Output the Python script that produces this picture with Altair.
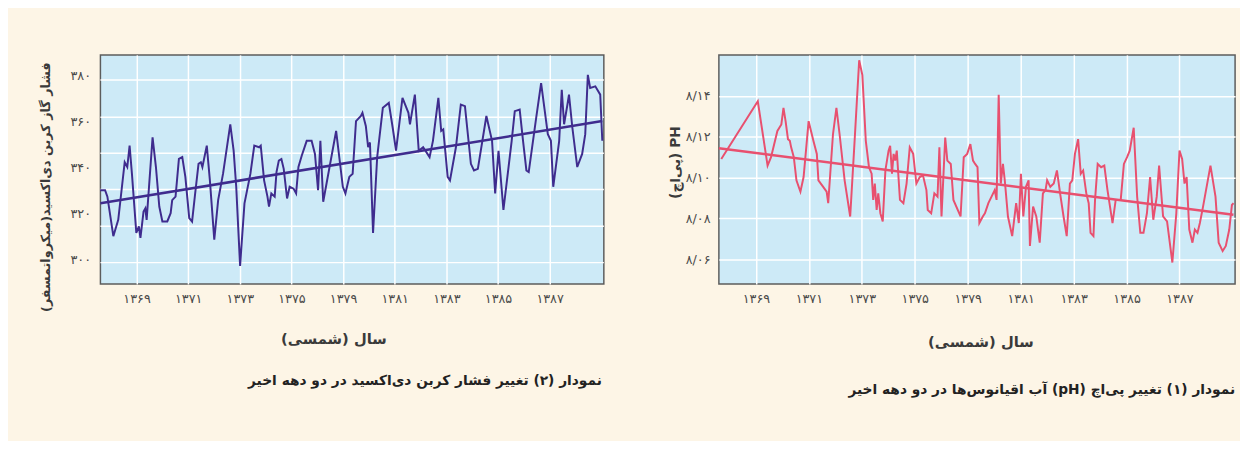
import json
import altair as alt
import pandas as pd

FONT = "DejaVu Sans"
RLE, PDF, RLM = "\u202b", "\u202c", "\u200f"

# ---------------- data ----------------
x_ticks = [1369, 1371, 1373, 1375, 1377, 1379, 1381, 1383, 1385]
x_tick_labels = ["۱۳۶۹", "۱۳۷۱", "۱۳۷۳", "۱۳۷۵", "۱۳۷۹", "۱۳۸۱", "۱۳۸۳", "۱۳۸۵", "۱۳۸۷"]

co2_ticks = [300, 320, 340, 360, 380]
co2_tick_labels = ["۳۰۰", "۳۲۰", "۳۴۰", "۳۶۰", "۳۸۰"]
co2_grid = [298.6, 314.4, 330.4, 346.2, 361.9, 378.1]

ph_ticks = [8.06, 8.08, 8.10, 8.12, 8.14]
ph_tick_labels = ["۸/۰۶", "۸/۰۸", "۸/۱۰", "۸/۱۲", "۸/۱۴"]

co2_year = [1367.59, 1367.78, 1367.87, 1368.10, 1368.29, 1368.54, 1368.64, 1368.73, 1368.82, 1368.99,
            1369.09, 1369.15, 1369.27, 1369.34, 1369.39, 1369.62, 1369.75, 1369.88, 1370.00, 1370.19,
            1370.32, 1370.38, 1370.51, 1370.64, 1370.77, 1370.89, 1371.04, 1371.15, 1371.27, 1371.40,
            1371.49, 1371.55, 1371.72, 1371.84, 1372.01, 1372.16, 1372.35, 1372.63, 1372.76, 1372.86,
            1373.01, 1373.18, 1373.41, 1373.56, 1373.75, 1373.81, 1373.94, 1374.07, 1374.13, 1374.22,
            1374.35, 1374.42, 1374.51, 1374.61, 1374.70, 1374.83, 1374.93, 1375.08, 1375.18, 1375.27,
            1375.40, 1375.59, 1375.78, 1375.91,
            1376.03, 1376.12, 1376.23, 1376.73, 1376.99, 1377.09, 1377.24, 1377.37, 1377.50, 1377.69,
            1377.75, 1377.88, 1377.97, 1378.04, 1378.16, 1378.32, 1378.54, 1378.77, 1378.92, 1379.05,
            1379.30, 1379.53, 1379.59, 1379.78, 1379.93, 1380.10, 1380.35, 1380.48, 1380.69, 1380.80,
            1380.88, 1381.05, 1381.14, 1381.37, 1381.56, 1381.72, 1381.95, 1382.07, 1382.22, 1382.55,
            1382.77, 1382.89, 1383.02, 1383.21, 1383.53, 1383.65, 1383.84, 1383.97, 1384.10, 1384.19,
            1384.48, 1384.67, 1384.93, 1385.05, 1385.14, 1385.37, 1385.47, 1385.56, 1385.69, 1385.75,
            1385.88, 1386.07, 1386.26, 1386.38, 1386.48, 1386.57, 1386.77, 1386.96, 1387.04]
co2_value = [330.1, 330.1, 327.3, 310.1, 317.2, 342.3, 340.2, 349.5, 337.3, 311.5,
             314.4, 309.4, 320.8, 322.2, 317.2, 353.1, 340.2, 323.0, 316.5, 316.5,
             320.1, 325.8, 327.3, 343.7, 344.5, 335.9, 318.0, 316.5, 328.7, 341.6,
             342.3, 340.2, 349.5, 334.4, 308.6, 325.8, 337.3, 358.8, 347.3, 331.6,
             297.2, 324.4, 337.3, 349.5, 348.8, 349.5, 334.4, 327.3, 323.0, 328.7,
             327.3, 338.0, 343.0, 343.7, 339.4, 326.5, 331.6, 330.8, 328.7, 340.2,
             345.2, 351.6, 351.6, 345.9,
             330.1, 351.6, 325.1, 355.9, 331.6, 328.7, 335.9, 337.3, 360.2, 362.4,
             363.8, 358.1, 348.8, 350.9, 311.5, 344.5, 366.0, 368.1, 357.4, 347.3,
             370.3, 363.8, 358.8, 371.7, 347.3, 348.8, 344.5, 351.6, 370.3, 355.9,
             356.6, 335.9, 334.4, 348.8, 367.4, 366.7, 341.6, 338.7, 339.4, 362.4,
             351.6, 328.7, 347.3, 321.5, 351.6, 364.5, 365.2, 351.6, 338.7, 338.0,
             361.7, 376.7, 354.5, 351.6, 331.6, 351.6, 373.8, 358.8, 367.4, 371.7,
             357.4, 340.2, 345.9, 354.5, 380.3, 374.6, 375.3, 371.7, 351.6]
co2_trend_year = [1367.6, 1387.04]
co2_trend_value = [324.4, 360.2]

ph_year = [1367.69, 1369.07, 1369.44, 1369.57, 1369.81, 1369.96, 1370.04, 1370.12, 1370.21, 1370.28,
           1370.33, 1370.43, 1370.53, 1370.68, 1370.80, 1370.99, 1371.17, 1371.30, 1371.36, 1371.54,
           1371.67, 1371.73, 1371.91, 1372.04, 1372.16, 1372.35, 1372.56, 1372.72, 1372.90, 1373.02,
           1373.15, 1373.27, 1373.37, 1373.43, 1373.49, 1373.56, 1373.62, 1373.70, 1373.79, 1373.89,
           1374.01, 1374.07, 1374.14, 1374.20, 1374.26, 1374.32, 1374.44, 1374.57, 1374.69, 1374.81,
           1374.94, 1375.06, 1375.19, 1375.31, 1375.44, 1375.49, 1375.62, 1375.74, 1375.86,
           1375.93, 1376.01, 1376.15, 1376.23, 1376.36, 1376.46, 1376.73, 1376.85, 1376.98, 1377.10,
           1377.20, 1377.28, 1377.37, 1377.44, 1377.57, 1377.65, 1377.78, 1377.90, 1378.02, 1378.09,
           1378.17, 1378.25, 1378.33, 1378.40, 1378.52, 1378.68, 1378.83, 1378.93, 1379.01, 1379.10,
           1379.20, 1379.30, 1379.35, 1379.47, 1379.59, 1379.72, 1379.84, 1379.94, 1380.00, 1380.12,
           1380.25, 1380.37, 1380.49, 1380.62, 1380.74, 1380.86, 1380.95, 1381.05, 1381.17, 1381.27,
           1381.36, 1381.48, 1381.57, 1381.64, 1381.75, 1381.81, 1381.91, 1382.04, 1382.16, 1382.28,
           1382.47, 1382.59, 1382.78, 1382.90, 1383.02, 1383.12, 1383.27, 1383.40, 1383.52, 1383.64,
           1383.77, 1383.89, 1384.01, 1384.14, 1384.23, 1384.38, 1384.53, 1384.73, 1384.88, 1385.00,
           1385.10, 1385.19, 1385.27, 1385.37, 1385.49, 1385.58, 1385.68, 1385.77, 1385.89, 1386.17,
           1386.36, 1386.48, 1386.63, 1386.75, 1386.88, 1386.98, 1387.04]
ph_value = [8.1091, 8.1373, 8.1059, 8.1100, 8.1228, 8.1260, 8.1341, 8.1276, 8.1188, 8.1180,
            8.1148, 8.1100, 8.0987, 8.0931, 8.1003, 8.1276, 8.1180, 8.1116, 8.0987, 8.0955,
            8.0931, 8.0875, 8.1212, 8.1341, 8.1212, 8.0987, 8.0810, 8.1164, 8.1574, 8.1501,
            8.1180, 8.1051, 8.1019, 8.0891, 8.0971, 8.0842, 8.0923, 8.0826, 8.0786, 8.1035,
            8.1132, 8.1156, 8.1019, 8.1116, 8.1083, 8.1132, 8.0891, 8.0875, 8.0971, 8.1148,
            8.1116, 8.0971, 8.1003, 8.1011, 8.0939, 8.0842, 8.0826, 8.0923, 8.0907,
            8.1148, 8.0810, 8.1196, 8.1083, 8.1067, 8.0891, 8.0810, 8.1100, 8.1116, 8.1164,
            8.1083, 8.1067, 8.1051, 8.0778, 8.0810, 8.0826, 8.0875, 8.0907, 8.0939, 8.0891,
            8.1405, 8.0971, 8.1067, 8.0987, 8.0810, 8.0714, 8.0875, 8.0778, 8.1019, 8.0810,
            8.0955, 8.0987, 8.0666, 8.0858, 8.0810, 8.0682, 8.0923, 8.0939, 8.0987, 8.0955,
            8.0971, 8.1035, 8.0923, 8.0810, 8.0714, 8.0971, 8.0987, 8.1116, 8.1188, 8.1019,
            8.1035, 8.0923, 8.0875, 8.0730, 8.0714, 8.0891, 8.1067, 8.1051, 8.1059, 8.0939,
            8.0778, 8.0891, 8.0891, 8.1067, 8.1100, 8.1132, 8.1244, 8.0907, 8.0730, 8.0730,
            8.0826, 8.1003, 8.0794, 8.0907, 8.1059, 8.0810, 8.0786, 8.0585, 8.0826, 8.1132,
            8.1091, 8.0971, 8.1003, 8.0746, 8.0682, 8.0746, 8.0730, 8.0778, 8.0858, 8.1059,
            8.0907, 8.0682, 8.0641, 8.0666, 8.0746, 8.0866, 8.0875]
ph_trend_year = [1367.6, 1387.04]
ph_trend_value = [8.1144, 8.0818]

x_title = RLE + "سال (شمسی)" + RLM + PDF
co2_y_title = RLE + "فشار گاز کربن دی‌اکسید(میکرواتمسفر)" + RLM + PDF
ph_y_title = "(پی‌اچ) PH"
co2_caption = RLE + "نمودار (۲) تغییر فشار کربن دی‌اکسید در دو دهه اخیر" + PDF
ph_caption = RLE + "نمودار (۱) تغییر پی‌اچ (pH) آب اقیانوس‌ها در دو دهه اخیر" + PDF

# ---------------- helpers ----------------
def label_expr(labels, start, step):
    return f"{json.dumps(labels, ensure_ascii=False)}[round((datum.value - {start}) / {step})]"

x_scale = alt.Scale(domain=[1367.6, 1387.1], nice=False, zero=False)
co2_scale = alt.Scale(domain=[289.3, 389.0], nice=False, zero=False)
ph_scale = alt.Scale(domain=[8.048, 8.160], nice=False, zero=False)


def x_axis(title_x, title_y):
    return alt.Axis(values=x_ticks, labelExpr=label_expr(x_tick_labels, 1369, 2),
                    grid=True, title=x_title, titleX=title_x, titleY=title_y,
                    titleAlign="center", titleBaseline="middle", titleFontSize=15,
                    titleFontWeight="bold", titleColor="#3a3a3a",
                    labelFontSize=13, labelPadding=9)

co2_axis = alt.Axis(values=co2_ticks, labelExpr=label_expr(co2_tick_labels, 300, 20),
                    grid=False, title=co2_y_title, titleX=-56, titleY=134,
                    titleAngle=270, titleAlign="center", titleBaseline="middle",
                    titleFontSize=13, titleFontWeight="bold", titleColor="#3a3a3a",
                    labelFontSize=13, labelPadding=10)

ph_axis = alt.Axis(values=ph_ticks, labelExpr=label_expr(ph_tick_labels, 8.06, 0.02),
                   grid=True, title=ph_y_title, titleX=-44, titleY=109,
                   titleAngle=270, titleAlign="center", titleBaseline="middle",
                   titleFontSize=14, titleFontWeight="bold", titleColor="#3a3a3a",
                   labelFontSize=13, labelPadding=9)

# ---------------- left panel: CO2 ----------------
co2_df = pd.DataFrame({"year": co2_year, "value": co2_value})
co2_trend_df = pd.DataFrame({"year": co2_trend_year, "value": co2_trend_value})
co2_grid_df = pd.DataFrame({"value": co2_grid})

CO2_COLOR = "#3f2c8e"
left_x = alt.X("year:Q", scale=x_scale, axis=x_axis(237, 56))
left_y = alt.Y("value:Q", scale=co2_scale, axis=co2_axis)

co2_gridlines = alt.Chart(co2_grid_df).mark_rule(color="white", strokeWidth=1.5).encode(y=left_y)
co2_line = alt.Chart(co2_df).mark_line(color=CO2_COLOR, strokeWidth=2).encode(x=left_x, y=left_y)
co2_trend = alt.Chart(co2_trend_df).mark_line(color=CO2_COLOR, strokeWidth=2.6).encode(x=left_x, y=left_y)

left = alt.layer(co2_gridlines, co2_line, co2_trend).properties(
    width=512, height=233,
    title=alt.TitleParams(text=co2_caption, orient="bottom", anchor="end", frame="group",
                          font=FONT, fontSize=14, fontWeight="bold", color="#222222",
                          offset=28, dx=-2),
)

# ---------------- right panel: pH ----------------
ph_df = pd.DataFrame({"year": ph_year, "value": ph_value})
ph_trend_df = pd.DataFrame({"year": ph_trend_year, "value": ph_trend_value})

PH_COLOR = "#e8506f"
right_x = alt.X("year:Q", scale=x_scale, axis=x_axis(266, 59))
right_y = alt.Y("value:Q", scale=ph_scale, axis=ph_axis)

ph_line = alt.Chart(ph_df).mark_line(color=PH_COLOR, strokeWidth=2).encode(x=right_x, y=right_y)
ph_trend = alt.Chart(ph_trend_df).mark_line(color=PH_COLOR, strokeWidth=2.6).encode(x=right_x, y=right_y)

right = alt.layer(ph_line, ph_trend).properties(
    width=525, height=233,
    title=alt.TitleParams(text=ph_caption, orient="bottom", anchor="end", frame="group",
                          font=FONT, fontSize=14, fontWeight="bold", color="#222222",
                          offset=34),
)

chart = (
    alt.hconcat(left, right, spacing=60)
    .properties(background="#fdf5e6", padding={"left": 31, "top": 43, "right": 0, "bottom": 40})
    .configure_view(fill="#cdeaf7", stroke="#5c5c5c", strokeWidth=1.5)
    .configure_axis(labelFont=FONT, titleFont=FONT, labelColor="#4a4a4a", domain=False,
                    ticks=False, gridColor="white", gridWidth=1.5, gridOpacity=1)
)

chart.save("out.html", embed_options={"renderer": "svg", "actions": False})
